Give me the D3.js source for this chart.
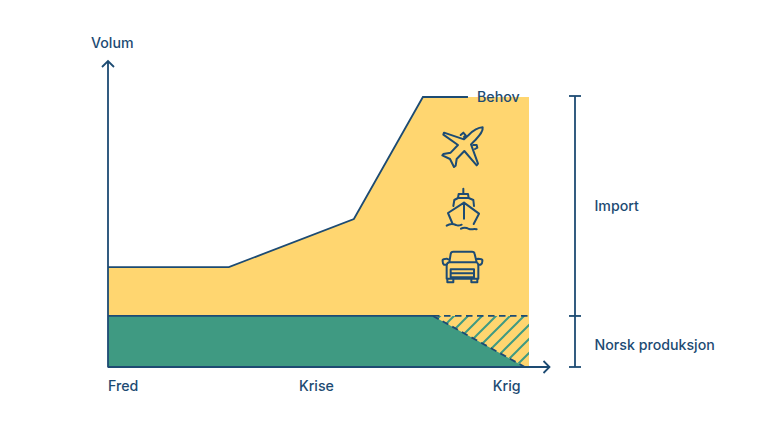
<!DOCTYPE html>
<html><head><meta charset="utf-8">
<script src="https://cdn.jsdelivr.net/npm/d3@7"></script>
<style>html,body{margin:0;background:#fff}svg{display:block}text{font-family:Inter,Roboto,sans-serif;font-weight:500;font-size:14.2px;fill:#1D4B73}</style>
</head><body><svg id="c" width="768" height="432"></svg>
<script>
const needX=[0,28.7,58.4,74.8,100];
const needV=[37,37,54.8,100,100];
const prodX=[0,77.2,99];
const prodV=[18.9,18.9,0];
const phases=["Fred","Krise","Krig"];
const phaseX=[0,49.5,94.7];
const brackets=[100,18.9,0];
const bracketLabels=["Import","Norsk produksjon"];
const bracketLabelV=[59.5,8];
const navy="#1D4B73",yellow="#FFD670",green="#3F9A82";
const svg=d3.select("#c");
const x=d3.scaleLinear().domain([0,100]).range([108,529]);
const y=d3.scaleLinear().domain([0,100]).range([367,97]);
const zip=(a,b)=>a.map((d,i)=>[d,b[i]]);
const line=d3.line().x(d=>x(d[0])).y(d=>y(d[1]));
const area=d3.area().x(d=>x(d[0])).y0(y(0)).y1(d=>y(d[1]));
const defs=svg.append("defs");
const pat=defs.append("pattern").attr("id","hatch").attr("patternUnits","userSpaceOnUse").attr("width",14).attr("height",14);
pat.append("path").attr("d","M-3,3L3,-3M0,14L14,0M11,17L17,11").attr("stroke",green).attr("stroke-width",2);
const need=zip(needX,needV),prod=zip(prodX,prodV);
svg.append("path").attr("d",area(need)).attr("fill",yellow);
svg.append("path").attr("d",area(prod)).attr("fill",green);
const hatchPts=[[prodX[1],prodV[1]],[100,prodV[1]],[100,0],[prodX[2],0]];
svg.append("path").attr("d",line(hatchPts)+"Z").attr("fill","url(#hatch)");
const stroke=(pts,dash)=>svg.append("path").attr("d",line(pts)).attr("fill","none").attr("stroke",navy).attr("stroke-width",1.8).attr("stroke-dasharray",dash||null);
stroke(need.slice(0,4).concat([[85.5,100]]));
stroke(prod.slice(0,2));
stroke([prod[1],[100,prodV[1]]],"6.5 4.5");
stroke([prod[1],prod[2]],"6.5 4.5");
// axes
const ax=svg.append("g").attr("fill","none").attr("stroke",navy).attr("stroke-width",1.8);
ax.append("path").attr("d",`M${x(0)},${y(0)+.5}V61M102,67L108,61L114,67`);
ax.append("path").attr("d",`M${x(0)},${y(0)}H549M543.5,361L549.5,367L543.5,373`);
// bracket
const bx=575;
ax.append("path").attr("d",`M${bx},${y(100)-1}V${y(0)}`);
brackets.forEach(v=>ax.append("path").attr("d",`M${bx-6},${y(v)-(v==100?1:0)}H${bx+6}`));
// labels
svg.append("text").attr("x",91).attr("y",48).text("Volum");
svg.append("text").attr("x",477).attr("y",102).text("Behov");
phases.forEach((p,i)=>svg.append("text").attr("x",x(phaseX[i])).attr("y",391).attr("text-anchor",i==0?"start":"middle").text(p));
svg.selectAll(".bl").data(bracketLabels).join("text").attr("x",594.5).attr("y",(d,i)=>y(bracketLabelV[i])+5).text(d=>d);
// icons (drawn in 3x local units)
const icon=(ox,oy,d)=>svg.append("g").attr("transform",`translate(${ox},${oy}) scale(${1/3})`).append("path").attr("d",d).attr("fill","none").attr("stroke",navy).attr("stroke-width",6).attr("stroke-linejoin","round").attr("stroke-linecap","round");
icon(420,85,"M188,127C170,128 158,138 146,150L132,163L72,143L70,149L114,180L92,203L70,207L67,211L90,222L102,246L107,242L110,222L133,198L170,241L174,236L153,178L166,165C178,152 190,140 188,127ZM122,150L130,143L137,151L132,156M160,180L170,180L172,188L165,192");
icon(420,180,"M130,26V42M116,42H144L146,54M116,42L114,54M100,78L103,60L114,54H146L160,60L162,78M132,68L84,99L98,132M132,68L177,101L161,132M132,68V116M80,137C90,130 100,131 108,135C115,139 120,136 125,134M123,146C132,141 140,143 147,147C155,149 162,146 170,148");
icon(420,180,"M88,247L92,222Q93,215 100,215H156Q163,215 164,222L170,247M80,296V257Q80,249 88,247H170Q175,249 175,257V296ZM92,268H162V292H92ZM92,280H162M80,254H72Q67,250 68,240Q70,236 80,236L85,238M175,254H182Q188,250 187,240Q185,236 175,236L168,238M82,296V307H100V296M154,296V307H172V296");
</script></body></html>
